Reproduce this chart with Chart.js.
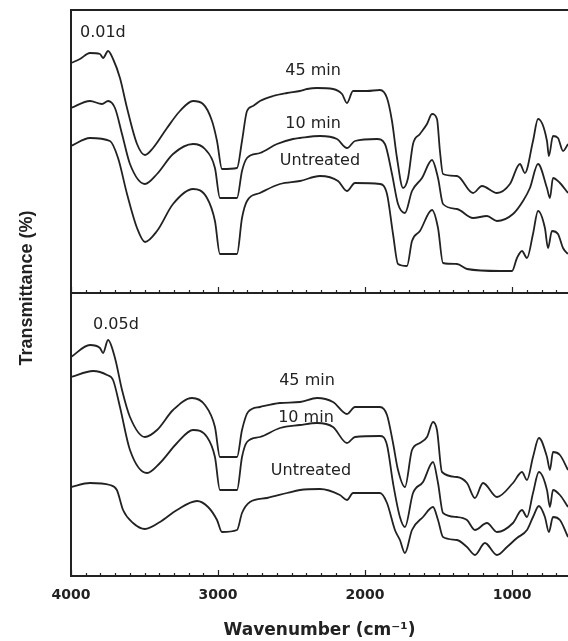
<!DOCTYPE html>
<html><head><meta charset="utf-8">
<script src="https://cdn.jsdelivr.net/npm/chart.js@4/dist/chart.umd.min.js"></script>
<style>html,body{margin:0;padding:0;background:#fff;}#wrap{position:relative;width:568px;height:641px;}canvas{display:block;}</style>
</head><body><div id="wrap"><canvas id="c" width="568" height="641" style="width:568px;height:641px"></canvas></div>
<script>
// x tick labels (wavenumber, cm-1)
const xTicks = [4000, 3000, 2000, 1000];
const xMin = 620, xMax = 4000;

// Panel A (0.01d) — transmittance in arbitrary units, offset curves
const A45_wn = [4000,3939,3871,3803,3782,3748,3714,3667,3619,3551,3497,3442,3347,3259,3170,3102,3041,3007,2973,2871,2837,2803,2762,2715,2626,2531,2443,2395,2327,2218,2157,2123,2082,1987,1899,1851,1817,1783,1742,1708,1674,1627,1579,1545,1511,1491,1470,1375,1266,1205,1103,1015,947,913,858,824,763,750,722,688,654,620];
const A45_T  = [230,234,240,239,235,242,234,215,185,149,138,145,165,182,192,189,172,152,124,125,152,182,187,192,197,200,202,204,205,204,199,190,202,202,203,195,172,135,105,115,149,159,169,179,174,142,119,117,100,107,100,109,129,120,152,174,152,137,157,155,142,149];

const A10_wn = [4000,3871,3789,3748,3701,3653,3599,3497,3415,3306,3170,3089,3021,2987,2871,2837,2803,2715,2599,2490,2443,2307,2191,2123,2069,1919,1865,1817,1776,1729,1681,1613,1545,1504,1470,1375,1266,1171,1103,994,926,879,824,763,743,722,675,620];
const A10_T  = [185,192,189,192,185,159,129,109,119,139,149,144,125,95,95,122,135,140,149,154,155,157,154,145,152,154,149,119,89,80,102,115,133,115,89,84,75,77,72,79,92,105,129,105,95,115,110,100];

const A0_wn = [4000,3871,3735,3680,3619,3551,3497,3415,3306,3170,3075,3021,2987,2871,2837,2803,2715,2579,2443,2307,2184,2123,2069,1899,1851,1810,1776,1715,1681,1627,1545,1504,1470,1375,1307,1083,1001,967,933,899,858,824,777,756,729,688,654,620];
const A0_T  = [147,155,152,135,99,65,51,62,89,104,95,72,39,39,75,92,100,109,112,117,112,102,110,109,99,59,29,27,52,62,83,65,30,29,24,22,22,35,42,35,59,82,65,45,62,59,45,39];

// Panel B (0.05d)
const B45_wn = [4000,3871,3803,3782,3748,3701,3653,3599,3497,3415,3306,3177,3089,3021,2987,2871,2837,2796,2715,2579,2443,2327,2218,2123,2069,1899,1851,1810,1776,1729,1681,1627,1579,1538,1511,1477,1375,1307,1253,1198,1103,994,933,899,858,818,763,743,722,675,620];
const B45_T  = [219,231,228,223,236,218,186,159,139,146,166,178,171,149,119,119,146,164,169,173,174,178,174,162,169,169,161,133,106,89,126,133,139,154,146,104,99,93,78,93,79,93,104,96,119,138,119,106,124,121,106];

const B10_wn = [4000,3850,3755,3714,3667,3599,3483,3395,3279,3170,3075,3021,2987,2871,2837,2803,2715,2579,2443,2327,2218,2123,2069,1899,1851,1810,1763,1729,1674,1606,1538,1504,1470,1375,1307,1253,1171,1103,994,933,899,858,818,763,743,722,675,620];
const B10_T  = [199,205,201,196,169,126,103,113,133,146,139,119,86,86,119,134,139,148,151,153,149,133,139,140,131,93,59,49,83,94,114,93,63,59,56,46,53,44,53,66,59,83,104,86,69,86,81,69];

const B0_wn = [4000,3871,3735,3688,3646,3578,3497,3395,3279,3143,3068,3007,2973,2871,2837,2783,2667,2531,2443,2307,2171,2123,2082,1899,1851,1797,1763,1729,1681,1606,1538,1504,1470,1375,1307,1253,1185,1103,1035,967,899,858,818,777,750,722,675,620];
const B0_T  = [89,93,91,86,66,53,47,54,66,75,69,56,44,46,63,74,78,83,86,87,81,76,83,83,73,46,36,23,46,59,69,56,39,36,29,21,33,21,29,38,46,59,70,59,44,59,56,39];

// Text labels (placed in data coordinates)
const panelLabels = ['0.01d', '0.05d'];
const seriesLabels = ['45 min', '10 min', 'Untreated'];

const INK = '#222222';
function pts(wn, t) { return wn.map((w, i) => ({x: w, y: t[i]})); }
function ds(label, wn, t, axis) {
  return {label, data: pts(wn, t), yAxisID: axis, borderColor: INK, borderWidth: 1.8,
          pointRadius: 0, fill: false, cubicInterpolationMode: 'monotone'};
}

const notes = [
  {text: panelLabels[0], wn: 3939, t: 260, axis: 'yT', align: 'left'},
  {text: seriesLabels[0], wn: 2354, t: 222, axis: 'yT', align: 'center'},
  {text: seriesLabels[1], wn: 2354, t: 169, axis: 'yT', align: 'center'},
  {text: seriesLabels[2], wn: 2307, t: 132, axis: 'yT', align: 'center'},
  {text: panelLabels[1], wn: 3850, t: 251, axis: 'yB', align: 'left'},
  {text: seriesLabels[0], wn: 2395, t: 195, axis: 'yB', align: 'center'},
  {text: seriesLabels[1], wn: 2402, t: 158, axis: 'yB', align: 'center'},
  {text: seriesLabels[2], wn: 2368, t: 105, axis: 'yB', align: 'center'}
];

const decor = {
  id: 'decor',
  afterDatasetsDraw(chart) {
    const ctx = chart.ctx, xs = chart.scales.x, ca = chart.chartArea;
    const yT = chart.scales.yT, yB = chart.scales.yB;
    ctx.save();
    ctx.strokeStyle = INK; ctx.lineWidth = 2;
    const divY = Math.round(yT.top < yB.top ? yT.bottom : yB.bottom);
    const topY = ca.top;
    ctx.beginPath();
    ctx.moveTo(ca.left, topY); ctx.lineTo(ca.right + 2, topY);
    ctx.moveTo(ca.left, divY); ctx.lineTo(ca.right + 2, divY);
    ctx.stroke();
    ctx.lineWidth = 1.2;
    ctx.beginPath();
    for (let v = 700; v <= 4000; v += 100) {
      const px = Math.round(xs.getPixelForValue(v)) + 0.5;
      const len = (v % 1000 === 0) ? 6 : 3;
      ctx.moveTo(px, divY); ctx.lineTo(px, divY - len);
      ctx.moveTo(px, ca.bottom); ctx.lineTo(px, ca.bottom - len);
    }
    ctx.stroke();
    // annotations
    ctx.fillStyle = INK;
    ctx.font = '16px "DejaVu Sans"';
    ctx.textBaseline = 'middle';
    for (const n of notes) {
      const ys = chart.scales[n.axis];
      ctx.textAlign = n.align;
      ctx.fillText(n.text, xs.getPixelForValue(n.wn), ys.getPixelForValue(n.t));
    }
    // y-axis title
    ctx.translate(27, 288);
    ctx.rotate(-Math.PI / 2);
    ctx.font = 'bold 18px "Liberation Sans"';
    ctx.textAlign = 'center';
    ctx.fillText('Transmittance (%)', 0, 0);
    ctx.restore();
  }
};

const yCommon = {
  type: 'linear', position: 'left', stack: 'panels', stackWeight: 1, offset: false,
  min: 0, max: 283,
  ticks: {display: false},
  grid: {drawOnChartArea: false, drawTicks: false},
  border: {display: true, color: INK, width: 2},
  afterFit(s) { s.width = 71; }
};

new Chart(document.getElementById('c'), {
  type: 'line',
  data: {
    datasets: [
      ds('0.01d 45 min', A45_wn, A45_T, 'yT'),
      ds('0.01d 10 min', A10_wn, A10_T, 'yT'),
      ds('0.01d Untreated', A0_wn, A0_T, 'yT'),
      ds('0.05d 45 min', B45_wn, B45_T, 'yB'),
      ds('0.05d 10 min', B10_wn, B10_T, 'yB'),
      ds('0.05d Untreated', B0_wn, B0_T, 'yB')
    ]
  },
  options: {
    responsive: false, animation: false, devicePixelRatio: 1,
    layout: {padding: {top: 10, left: 0, right: 0, bottom: 0}},
    plugins: {legend: {display: false}, tooltip: {enabled: false}},
    scales: {
      x: {
        type: 'linear', reverse: true, min: xMin, max: xMax,
        afterBuildTicks(s) { s.ticks = xTicks.map(v => ({value: v})); },
        afterFit(s) { s.height = 65; },
        grid: {drawOnChartArea: false, drawTicks: false},
        border: {display: true, color: INK, width: 2},
        ticks: {color: INK, padding: 11, maxRotation: 0, autoSkip: false,
                callback: v => String(v),
                font: {family: '"DejaVu Sans"', size: 14, weight: 'bold'}},
        title: {display: true, text: 'Wavenumber (cm⁻¹)', color: INK, padding: {top: 13, bottom: 0},
                font: {family: '"DejaVu Sans"', size: 17, weight: 'bold'}}
      },
      yB: Object.assign({}, yCommon),
      yT: Object.assign({}, yCommon)
    }
  },
  plugins: [decor]
});
</script>
</body></html>
